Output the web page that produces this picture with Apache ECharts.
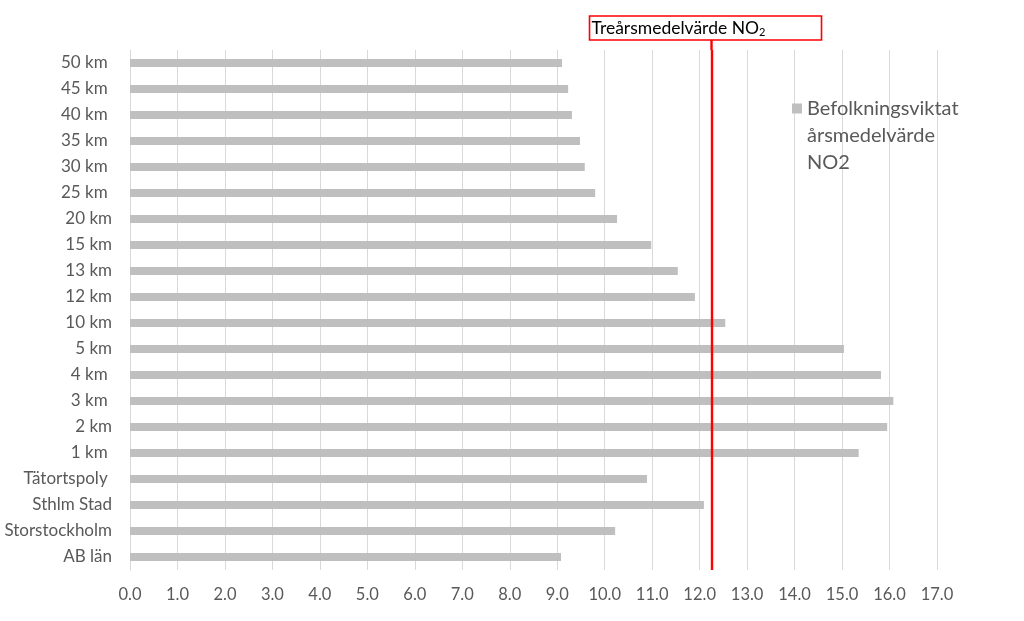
<!DOCTYPE html>
<html>
<head>
<meta charset="utf-8">
<script src="https://cdn.jsdelivr.net/npm/echarts@6/dist/echarts.min.js"></script>
<style>html,body{margin:0;padding:0;background:#fff}#c{width:1024px;height:621px}</style>
</head>
<body>
<div id="c"></div>
<script>
const categories = ['50 km ','45 km ','40 km ','35 km ','30 km ','25 km ','20 km','15 km','13 km','12 km','10 km','5 km','4 km ','3 km ','2 km','1 km ','Tätortspoly ','Sthlm Stad','Storstockholm','AB län'];
const values = [9.10, 9.23, 9.31, 9.48, 9.58, 9.80, 10.26, 10.98, 11.54, 11.90, 12.54, 15.04, 15.82, 16.08, 15.95, 15.35, 10.89, 12.09, 10.22, 9.08];
const seriesName = 'Befolkningsviktat årsmedelvärde NO2';
const threshold = 12.25;
const xTicks = {min: 0, max: 17, interval: 1};

const FONT = 'Lato';
const chart = echarts.init(document.getElementById('c'));
chart.setOption({
  animation: false,
  grid: {left: 130, right: 87, top: 50, bottom: 51, containLabel: false},
  legend: {
    left: 792, top: 95, padding: 0,
    itemWidth: 10, itemHeight: 64, itemGap: 0,
    icon: 'path://M0,0h10v10h-10z M0,64h0.01',
    data: [seriesName],
    formatter: n => n.replace(/ /g, '\n'),
    textStyle: {fontFamily: FONT, fontSize: 20, color: '#595959', lineHeight: 27}
  },
  xAxis: {
    type: 'value', min: xTicks.min, max: xTicks.max, interval: xTicks.interval,
    axisLine: {show: false}, axisTick: {show: false},
    splitLine: {show: true, lineStyle: {color: '#d9d9d9', width: 1}},
    axisLabel: {formatter: v => v.toFixed(1), fontFamily: FONT, fontSize: 16.5, color: '#595959', margin: 16}
  },
  yAxis: {
    type: 'category', data: categories, inverse: true,
    axisLine: {show: true, lineStyle: {color: '#d9d9d9', width: 1}},
    axisTick: {show: false},
    axisLabel: {fontFamily: FONT, fontSize: 17, color: '#595959', margin: 18}
  },
  series: [{
    name: seriesName, type: 'bar', data: values,
    barWidth: 8,
    itemStyle: {color: '#bfbfbf'},
    markLine: {
      silent: true, symbol: 'none',
      lineStyle: {color: '#ff0000', width: 2.4, type: 'solid'},
      label: {show: false},
      data: [{xAxis: threshold}]
    }
  }]
});

const lineX = chart.convertToPixel({xAxisIndex: 0}, threshold);
const gridTop = chart.convertToPixel({yAxisIndex: 0}, categories[0]) - 13;
chart.setOption({
  graphic: [
    {type: 'line', shape: {x1: lineX, y1: 40, x2: lineX, y2: gridTop}, style: {stroke: '#ff0000', lineWidth: 2.4}, silent: true},
    {type: 'rect', shape: {x: lineX - 122, y: 16, width: 232, height: 24}, style: {fill: '#fff', stroke: '#ff0000', lineWidth: 1.6}, silent: true},
    {type: 'text', x: lineX - 120, y: 28, silent: true,
     style: {
       text: '{a|Treårsmedelvärde NO}{s|2}',
       verticalAlign: 'middle',
       rich: {
         a: {fontFamily: FONT, fontSize: 17.5, fill: '#000', lineHeight: 20},
         s: {fontFamily: FONT, fontSize: 11, fill: '#000', lineHeight: 20, padding: [8, 0, 0, 0], verticalAlign: 'bottom'}
       }
     }}
  ]
});
</script>
</body>
</html>
